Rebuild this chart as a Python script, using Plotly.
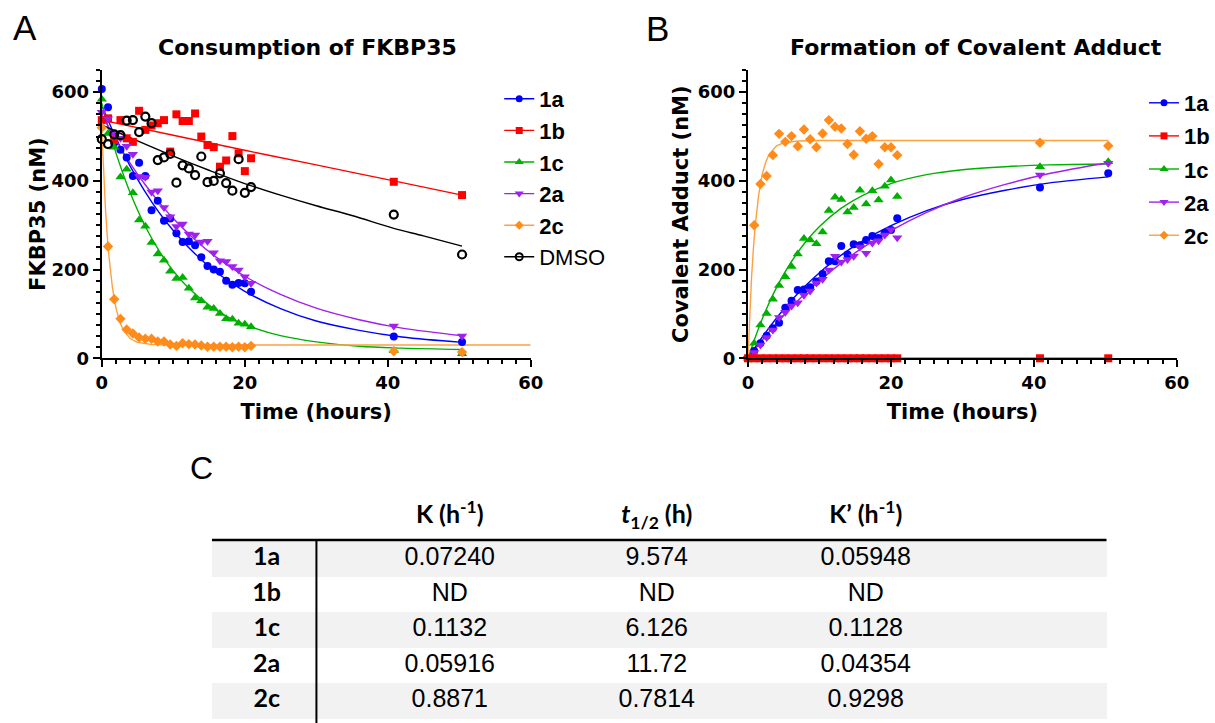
import plotly.graph_objects as go

W, H = 1215, 723

# ---------------- data ----------------
time_h = [0, 0.87, 1.74, 2.61, 3.48, 4.35, 5.22, 6.09, 6.96, 7.83, 8.7, 9.57, 10.44,
          11.31, 12.18, 13.05, 13.92, 14.79, 15.66, 16.53, 17.4, 18.27, 19.14, 20.01,
          20.88, 40.85, 50.4]

# Panel A: FKBP35 (nM)
fk_1a = [607, 566, 486, 470, 453, 411, 441, 411, 334, 355, 310, 315, 282, 262, 264, 255,
         228, 208, 200, 195, 175, 166, 170, 169, 150, 49, 37]
fk_1b = [537, 541, 492, 537, 496, 488, 558, 515, 525, 530, 537, 466, 550, 535, 535, 552,
         500, 481, 476, 432, 446, 501, 462, 422, 451, 398, 368]
fk_1c = [584, 507, 476, 409, 426, 373, 312, 298, 261, 235, 221, 196, 180, 182, 158, 136,
         130, 115, 112, 101, 89, 88, 79, 77, 71, 17, 10]
fk_2a = [555, 540, 507, 496, 478, 460, 410, 408, 375, 378, 340, 319, 297, 303, 280, 278,
         262, 264, 238, 220, 218, 207, 199, 184, 169, 73, 50]
fk_2c = [520, 252, 133, 89, 65, 56, 47, 44, 44, 38, 38, 31, 28, 34, 32, 31, 29, 26, 26,
         26, 26, 25, 26, 25, 28, 16, 14]
fk_dmso = [494, 483, 505, 503, 536, 537, 510, 545, 530, 447, 453, 461, 396, 435, 428, 413,
           455, 397, 400, 417, 395, 378, 449, 373, 386, 324, 234]

# Panel B: covalent adduct (nM)
ca_1a = [0, 16.5, 34, 51, 68, 80, 114, 130, 154, 155, 160, 173, 190, 219, 219, 253, 234,
         257, 255, 267, 276, 271, 283, 289, 316, 385, 417]
ca_1b = [0, 0, 0, 0, 0, 0, 0, 0, 0, 0, 0, 0, 0, 0, 0, 0, 0, 0, 0, 0, 0, 0, 0, 0, 0, 0, 0]
ca_1c = [0, 34, 75, 101, 133, 164, 184, 207, 235, 270, 267, 258, 285, 333, 363, 358, 330,
         340, 379, 348, 378, 357, 388, 402, 365, 432, 443]
ca_2a = [0, 13, 30, 47, 64, 92, 104, 118, 125, 142, 152, 170, 178, 199, 230, 217, 223, 230,
         251, 237, 260, 265, 278, 290, 272, 413, 440]
ca_2c = [0, 300, 393, 411, 458, 506, 488, 501, 478, 516, 494, 476, 507, 537, 522, 518, 483,
         459, 512, 495, 501, 438, 476, 476, 458, 486, 479]

# fitted curves
fitA_t_std = [0, 2, 4, 6, 8, 10, 13, 16, 20, 25, 30, 36, 42, 50.4]
fitA_1a = [570, 496, 432, 377, 329, 288, 236, 194, 151, 112, 84, 63, 48, 36]
fitA_2a = [550, 491, 439, 393, 352, 315, 268, 228, 185, 144, 113, 87, 68, 51]
fitA_t_1b = [0, 10, 20, 30, 40.85, 50.4]
fitA_1b = [537, 503, 469, 436, 400, 368]
fitA_t_1c = [0, 1, 2, 3, 4, 6, 8, 10, 12, 15, 18, 21, 25, 30, 36, 42, 50.4]
fitA_1c = [575, 515, 462, 415, 372, 300, 243, 197, 161, 120, 90, 70, 51, 37, 27, 23, 20]
fitA_t_2c = [0, 0.25, 0.5, 0.75, 1, 1.5, 2, 2.5, 3, 4, 5, 7, 10, 20, 40, 60]
fitA_2c = [515, 418, 341, 279, 230, 158, 112, 83, 64, 44, 36, 31, 30, 30, 30, 30]
fitA_t_dmso = [0, 5, 10, 15, 20, 25, 30, 35, 40.85, 45, 50.4]
fitA_dmso = [526, 490, 456, 424, 394, 368, 344, 322, 293, 276, 253]

fitB_t_std = [0, 2, 4, 6, 8, 10, 13, 16, 20, 25, 30, 36, 42, 50.4]
fitB_1a = [0, 48, 91, 129, 163, 193, 232, 264, 299, 333, 358, 379, 395, 409]
fitB_2a = [0, 41, 79, 114, 146, 175, 214, 249, 288, 329, 362, 392, 416, 441]
fitB_1c = [0, 89, 160, 216, 261, 297, 338, 367, 394, 414, 425, 432, 436, 438]
fitB_t_2c = [0, 0.25, 0.5, 0.75, 1, 1.5, 2, 2.5, 3, 4, 5, 7, 10, 20, 35, 50.4]
fitB_2c = [0, 102, 183, 246, 297, 369, 415, 443, 461, 479, 486, 490, 491, 491, 491, 491]
fitB_t_1b = [0, 50.4]
fitB_1b = [0, 0]

# table
tbl_rows = ["1a", "1b", "1c", "2a", "2c"]
tbl_k = ["0.07240", "ND", "0.1132", "0.05916", "0.8871"]
tbl_t12 = ["9.574", "ND", "6.126", "11.72", "0.7814"]
tbl_kp = ["0.05948", "ND", "0.1128", "0.04354", "0.9298"]
tbl_head = ["K (h<sup>-1</sup>)", "<i>t</i><sub>1/2</sub> (h)", "K’ (h<sup>-1</sup>)"]

# ---------------- styles / layout constants ----------------
C = {"1a": "#0000FF", "1b": "#FF0000", "1c": "#00B000", "2a": "#A020F0", "2c": "#FF8C1A", "DMSO": "#000000"}
LINEC = {"1a": "#0000FF", "1b": "#FF0000", "1c": "#00B000", "2a": "#A020F0", "2c": "#FFA040", "DMSO": "#000000"}
SYM = {"1a": ("circle", 8), "1b": ("square", 8), "1c": ("triangle-up", 9), "2a": ("triangle-down", 9),
       "2c": ("diamond", 8), "DMSO": ("circle-open", 8)}

AXF = "DejaVu Sans"
LEGF = "Liberation Sans"

# table geometry (pixel units on a hidden axis pair)
TB_X0, TB_X1 = 213, 1112
TB_HEAD_Y = 517
TB_ROW_TOP = 541
TB_ROW_H = 35.5
TB_LABEL_X = 268
TB_COL_X = [452, 660, 870]
TB_VLINE_X = 318

fig = go.Figure()

def fit_trace(t, y, key, xa, ya, shape="spline"):
    fig.add_trace(go.Scatter(x=t, y=y, mode="lines", xaxis=xa, yaxis=ya, showlegend=False,
                             line=dict(color=LINEC[key], width=1.4, shape=shape),
                             hoverinfo="skip", cliponaxis=False))

def data_trace(t, y, key, xa, ya):
    s, sz = SYM[key]
    mk = dict(symbol=s, size=sz, color=C[key])
    if key == "DMSO":
        mk = dict(symbol=s, size=sz, color="black", line=dict(color="black", width=2.2))
    fig.add_trace(go.Scatter(x=t, y=y, mode="markers", xaxis=xa, yaxis=ya, showlegend=False,
                             marker=mk, cliponaxis=False, name=key))

def legend_trace(key, leg, bold=True):
    s, sz = SYM[key]
    mk = dict(symbol=s, size=sz - 1, color=C[key])
    if key == "DMSO":
        mk = dict(symbol=s, size=sz - 1, color="black", line=dict(color="black", width=2))
    fig.add_trace(go.Scatter(x=[None], y=[None], mode="lines+markers", legend=leg,
                             legendgroup=leg + key,
                             name=("<b>%s</b>" % key) if bold else key,
                             line=dict(color=LINEC[key], width=1.4), marker=mk,
                             xaxis="x", yaxis="y", showlegend=True))

# Panel A fits
fit_trace(fitA_t_std, fitA_1a, "1a", "x", "y")
fit_trace(fitA_t_1b, fitA_1b, "1b", "x", "y")
fit_trace(fitA_t_1c, fitA_1c, "1c", "x", "y")
fit_trace(fitA_t_std, fitA_2a, "2a", "x", "y")
fit_trace(fitA_t_2c, fitA_2c, "2c", "x", "y", shape="linear")
fit_trace(fitA_t_dmso, fitA_dmso, "DMSO", "x", "y")
for key, vals in [("1a", fk_1a), ("1b", fk_1b), ("1c", fk_1c), ("2a", fk_2a), ("2c", fk_2c), ("DMSO", fk_dmso)]:
    data_trace(time_h, vals, key, "x", "y")

# Panel B fits
fit_trace(fitB_t_std, fitB_1a, "1a", "x2", "y2")
fit_trace(fitB_t_std, fitB_1c, "1c", "x2", "y2")
fit_trace(fitB_t_std, fitB_2a, "2a", "x2", "y2")
fit_trace(fitB_t_2c, fitB_2c, "2c", "x2", "y2", shape="linear")
for key, vals in [("1a", ca_1a), ("1c", ca_1c), ("2a", ca_2a), ("2c", ca_2c)]:
    data_trace(time_h, vals, key, "x2", "y2")
fit_trace(fitB_t_1b, fitB_1b, "1b", "x2", "y2", shape="linear")
data_trace(time_h, ca_1b, "1b", "x2", "y2")

# legends
for key in ["1a", "1b", "1c", "2a", "2c"]:
    legend_trace(key, "legend")
legend_trace("DMSO", "legend", bold=False)
for key in ["1a", "1b", "1c", "2a", "2c"]:
    legend_trace(key, "legend2")

# ---------------- table (panel C) ----------------
n_rows = len(tbl_rows)
row_edges = [TB_ROW_TOP + TB_ROW_H * i for i in range(n_rows + 1)]
row_mid = [TB_ROW_TOP + TB_ROW_H * (i + 0.5) for i in range(n_rows)]
band = [[1 if i % 2 == 0 else 0] for i in range(n_rows)]
fig.add_trace(go.Heatmap(z=band, x=[TB_X0, TB_X1], y=row_edges, xaxis="x3", yaxis="y3",
                         colorscale=[[0, "#FFFFFF"], [1, "#F2F2F2"]], zmin=0, zmax=1,
                         showscale=False, hoverinfo="skip"))
fig.add_trace(go.Scatter(x=TB_COL_X, y=[TB_HEAD_Y] * 3, text=tbl_head, mode="text", xaxis="x3", yaxis="y3",
                         textposition="middle center", showlegend=False, hoverinfo="skip",
                         textfont=dict(family="Lato", size=25, color="black", weight="bold")))
fig.add_trace(go.Scatter(x=[TB_LABEL_X] * n_rows, y=row_mid, text=tbl_rows, mode="text", xaxis="x3", yaxis="y3",
                         textposition="middle center", showlegend=False, hoverinfo="skip",
                         textfont=dict(family="Lato", size=25, color="black", weight="bold")))
for cx, col in zip(TB_COL_X, [tbl_k, tbl_t12, tbl_kp]):
    fig.add_trace(go.Scatter(x=[cx] * n_rows, y=row_mid, text=col, mode="text", xaxis="x3", yaxis="y3",
                             textposition="middle center", showlegend=False, hoverinfo="skip",
                             textfont=dict(family="Liberation Sans", size=25, color="black")))

def axis_common(dtick, mdtick, rng, title, standoff):
    return dict(range=rng, dtick=dtick, tick0=0, showgrid=False, zeroline=False,
                showline=True, linecolor="black", linewidth=2.2,
                ticks="outside", ticklen=7, tickwidth=2.2, tickcolor="black",
                minor=dict(ticks="outside", dtick=mdtick, ticklen=4, tickwidth=1.6, tickcolor="black", showgrid=False),
                tickfont=dict(family=AXF, size=18, color="black", weight="bold"),
                title=dict(text=title, font=dict(family=AXF, size=21, color="black", weight="bold"), standoff=standoff),
                automargin=False, fixedrange=True)

hidden = dict(visible=False, showgrid=False, zeroline=False, fixedrange=True)

yd = [1 - 358.3 / H, 1 - 70 / H]
fig.update_layout(
    width=W, height=H, margin=dict(l=0, r=0, t=0, b=0), autosize=False,
    paper_bgcolor="white", plot_bgcolor="rgba(0,0,0,0)",
    xaxis=dict(domain=[102.3 / W, 533.3 / W], anchor="y", **axis_common(20, 2, [0, 60], "Time (hours)", 12)),
    yaxis=dict(domain=yd, anchor="x", **axis_common(200, 25, [0, 650], "FKBP35 (nM)", 0)),
    xaxis2=dict(domain=[751.7 / W, 1182.7 / W], anchor="y2", **axis_common(20, 2, [0, 60], "Time (hours)", 12)),
    yaxis2=dict(domain=yd, anchor="x2", **axis_common(200, 25, [0, 650], "Covalent Adduct (nM)", 3)),
    xaxis3=dict(domain=[0, 1], range=[0, W], anchor="y3", **hidden),
    yaxis3=dict(domain=[0, 1 - 480 / H], range=[H, 480], anchor="x3", **hidden),
    legend=dict(x=501.7 / W, y=1 - 78 / H, xanchor="left", yanchor="top", bgcolor="rgba(0,0,0,0)",
                font=dict(family=LEGF, size=22, color="black"), tracegroupgap=0, itemwidth=30),
    legend2=dict(x=1150 / W, y=1 - 82 / H, xanchor="left", yanchor="top", bgcolor="rgba(0,0,0,0)",
                 font=dict(family=LEGF, size=22, color="black"), tracegroupgap=1.5, itemwidth=30),
    showlegend=True,
    annotations=[
        dict(text="A", x=25 / W, y=1 - 28 / H, xref="paper", yref="paper", showarrow=False,
             font=dict(family=LEGF, size=35, color="black"), xanchor="center", yanchor="middle"),
        dict(text="B", x=661 / W, y=1 - 28.5 / H, xref="paper", yref="paper", showarrow=False,
             font=dict(family=LEGF, size=35, color="black"), xanchor="center", yanchor="middle"),
        dict(text="C", x=203 / W, y=1 - 468 / H, xref="paper", yref="paper", showarrow=False,
             font=dict(family=LEGF, size=32, color="black"), xanchor="center", yanchor="middle"),
        dict(text="<b>Consumption of FKBP35</b>", x=309 / W, y=1 - 48 / H, xref="paper", yref="paper",
             showarrow=False, font=dict(family=AXF, size=22, color="black"), xanchor="center", yanchor="middle"),
        dict(text="<b>Formation of Covalent Adduct</b>", x=981 / W, y=1 - 48 / H, xref="paper", yref="paper",
             showarrow=False, font=dict(family=AXF, size=22, color="black"), xanchor="center", yanchor="middle"),
    ],
    shapes=[
        dict(type="line", xref="x3", yref="y3", x0=TB_X0, x1=TB_X1, y0=TB_ROW_TOP - 1, y1=TB_ROW_TOP - 1,
             line=dict(color="black", width=2.5)),
        dict(type="line", xref="x3", yref="y3", x0=TB_VLINE_X, x1=TB_VLINE_X, y0=TB_ROW_TOP - 1, y1=H,
             line=dict(color="black", width=2)),
    ],
)

fig.write_html("out.html", config={"displayModeBar": False},
               post_script="document.body.style.margin='0px';document.body.style.overflow='hidden';")
